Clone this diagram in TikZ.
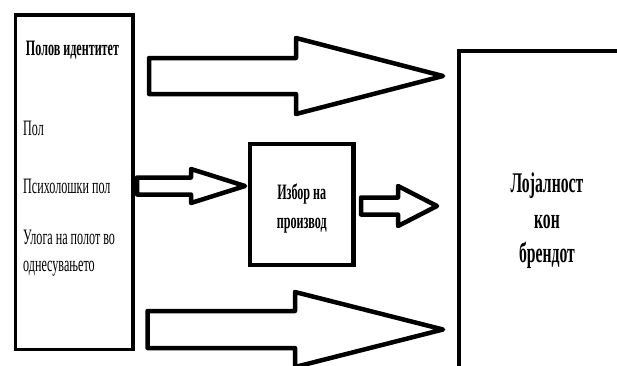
\documentclass[tikz,border=0pt]{standalone}
\usepackage{fontspec}
\setmainfont{Liberation Serif}[FakeStretch=0.55]
\begin{document}
\begin{tikzpicture}[x=1pt,y=-1pt,
  boxstyle/.style={draw=black,rectangle,inner sep=0pt},
  blockarrow/.style={draw=black,line width=4.5pt,line join=round,fill=white},
  lefttxt/.style={inner sep=0pt,anchor=base west,font=\fontsize{22}{25}\selectfont},
  titletxt/.style={inner sep=0pt,anchor=base,font=\fontsize{22}{25}\selectfont\bfseries},
  midtxt/.style={inner sep=0pt,anchor=base,font=\fontsize{22}{25}\selectfont\bfseries},
  righttxt/.style={inner sep=0pt,anchor=base,font=\fontsize{28.5}{32}\selectfont\bfseries}]
\useasboundingbox (0,0) rectangle (617,365);
\clip (0,0) rectangle (617,365);
\newcommand{\blkarrow}[6]{%
  \draw[blockarrow] (#1,{#4-#5}) -- (#2,{#4-#5}) -- (#2,{#4-#6}) -- (#3,#4)
    -- (#2,{#4+#6}) -- (#2,{#4+#5}) -- (#1,{#4+#5}) -- cycle;}
% boxes
\node[boxstyle,line width=3.5pt,minimum width=117.5pt,minimum height=334.5pt] (gender) at (74.25,182.25) {};
\node[boxstyle,line width=4.5pt,minimum width=103.5pt,minimum height=121pt] (choice) at (301.75,204.5) {};
\node[boxstyle,line width=4.5pt,minimum width=176pt,minimum height=349pt] (loyal) at (547,225.5) {};
% arrows
\blkarrow{149}{296}{443}{76}{18}{38}
\blkarrow{147.5}{295}{443}{329.5}{18.5}{37.5}
\blkarrow{137}{191}{245}{186}{8.5}{17}
\blkarrow{361}{398}{437}{206}{8.5}{20}
% texts
\node[titletxt] (t0) at (72.5,55) {Полов идентитет};
\node[lefttxt] (t1) at (23,135) {Пол};
\node[lefttxt] (t2) at (23,193) {Психолошки пол};
\node[lefttxt] (t3) at (23,244) {Улога на полот во};
\node[lefttxt] (t4) at (23,271) {однесувањето};
\node[midtxt] (m1) at (301.75,199) {Избор на};
\node[midtxt] (m2) at (301.75,228) {производ};
\node[righttxt] (r1) at (547,192) {Лојалност};
\node[righttxt] (r2) at (547,228) {кон};
\node[righttxt] (r3) at (547,262) {брендот};
\end{tikzpicture}
\end{document}
